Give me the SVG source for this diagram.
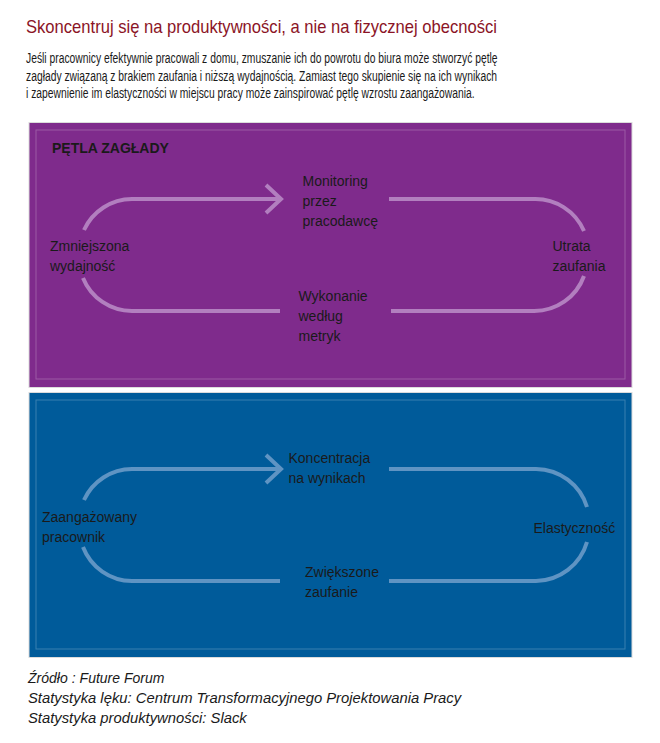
<svg xmlns="http://www.w3.org/2000/svg" width="660" height="743" viewBox="0 0 660 743">
<style>
.title{font-family:"Liberation Sans",Arial,sans-serif;font-size:18.5px;fill:#8b1426;}
.para{font-family:"Liberation Sans",Arial,sans-serif;font-size:14.5px;fill:#1a1a1a;}
.lbl{font-family:"Liberation Sans",Arial,sans-serif;font-size:14px;fill:#1a1a1a;}
.head{font-family:"Liberation Sans",Arial,sans-serif;font-size:14px;font-weight:bold;fill:#1a1a1a;}
.foot{font-family:"Liberation Sans",Arial,sans-serif;font-size:14px;font-style:italic;fill:#1a1a1a;}
.foot2{font-family:"Liberation Sans",Arial,sans-serif;font-size:14.8px;font-style:italic;fill:#1a1a1a;}
.panel{stroke:#dcdcdc;stroke-width:1;}
.inner{fill:none;stroke:#ffffff;stroke-opacity:0.22;stroke-width:1;}
.link{fill:none;stroke-width:4;}
.lp{stroke:#b27fbf;}
.lb{stroke:#5f94c3;}
</style>
<defs>
<marker id="chevP" markerUnits="userSpaceOnUse" viewBox="-18 -17 22 34" markerWidth="22" markerHeight="34" refX="0" refY="0" orient="auto">
<path d="M-14 -14 L1 0 L-14 14" fill="none" stroke="#b27fbf" stroke-width="4"/>
</marker>
<marker id="chevB" markerUnits="userSpaceOnUse" viewBox="-18 -17 22 34" markerWidth="22" markerHeight="34" refX="0" refY="0" orient="auto">
<path d="M-14 -14 L1 0 L-14 14" fill="none" stroke="#5f94c3" stroke-width="4"/>
</marker>
</defs>
<rect width="660" height="743" fill="#ffffff"/>
<g id="header">
<text class="title" x="26" y="33" textLength="471" lengthAdjust="spacingAndGlyphs">Skoncentruj się na produktywności, a nie na fizycznej obecności</text>
<g transform="translate(26 0) scale(0.7125 1)">
<text class="para" x="0" y="63.5">Jeśli pracownicy efektywnie pracowali z domu, zmuszanie ich do powrotu do biura może stworzyć pętlę</text>
<text class="para" x="0" y="81">zagłady związaną z brakiem zaufania i niższą wydajnością. Zamiast tego skupienie się na ich wynikach</text>
<text class="para" x="0" y="98.5">i zapewnienie im elastyczności w miejscu pracy może zainspirować pętlę wzrostu zaangażowania.</text>
</g>
</g>
<g id="panel-doom">
<rect class="panel" x="29" y="122.5" width="603" height="265" fill="#7f2b8c"/>
<rect class="inner" x="36" y="130" width="589" height="249"/>
<text class="head" x="52" y="153">PĘTLA ZAGŁADY</text>
</g>
<g id="panel-growth">
<rect class="panel" x="29" y="392.5" width="603" height="265" fill="#005b9a"/>
<rect class="inner" x="36" y="400" width="589" height="249"/>
</g>
<g id="connectors">
<path class="link lp" d="M84 230 A53 53 0 0 1 132 199 L280 199" marker-end="url(#chevP)"/>
<path class="link lp" d="M389 199 L534 199 A53 53 0 0 1 584 231"/>
<path class="link lp" d="M584 276 A53 53 0 0 1 534 311 L391 311"/>
<path class="link lp" d="M280 311 L132 311 A53 53 0 0 1 83 278"/>
<path class="link lb" d="M84 500 A53 53 0 0 1 132 469 L280 469" marker-end="url(#chevB)"/>
<path class="link lb" d="M389 469 L536 469 A54 54 0 0 1 587 507"/>
<path class="link lb" d="M587 542 A54 54 0 0 1 536 581 L389 581"/>
<path class="link lb" d="M280 581 L132 581 A53 53 0 0 1 83 547"/>
</g>
<g id="node-monitoring">
<text class="lbl" x="302.5" y="185.5">Monitoring</text>
<text class="lbl" x="302.5" y="205.5">przez</text>
<text class="lbl" x="302.5" y="225.5">pracodawcę</text>
</g>
<g id="node-utrata">
<text class="lbl" x="552.5" y="250.5">Utrata</text>
<text class="lbl" x="552.5" y="270.5">zaufania</text>
</g>
<g id="node-wykonanie">
<text class="lbl" x="298.5" y="300.5">Wykonanie</text>
<text class="lbl" x="298.5" y="320.5">według</text>
<text class="lbl" x="298.5" y="340.5">metryk</text>
</g>
<g id="node-zmniejszona">
<text class="lbl" x="50" y="250.5">Zmniejszona</text>
<text class="lbl" x="50" y="270.5">wydajność</text>
</g>
<g id="node-koncentracja">
<text class="lbl" x="288.5" y="462.5">Koncentracja</text>
<text class="lbl" x="288.5" y="482.5">na wynikach</text>
</g>
<g id="node-elastycznosc">
<text class="lbl" x="533.5" y="532.5">Elastyczność</text>
</g>
<g id="node-zwiekszone">
<text class="lbl" x="305" y="577">Zwiększone</text>
<text class="lbl" x="305" y="597">zaufanie</text>
</g>
<g id="node-zaangazowany">
<text class="lbl" x="42" y="521.5">Zaangażowany</text>
<text class="lbl" x="42" y="541.5">pracownik</text>
</g>
<g id="footer">
<text class="foot" x="28" y="682.5">Źródło<tspan dx="4">:</tspan><tspan dx="4">Future Forum</tspan></text>
<text class="foot2" x="28" y="702.5">Statystyka lęku: Centrum Transformacyjnego Projektowania Pracy</text>
<text class="foot2" x="28" y="722.5">Statystyka produktywności: Slack</text>
</g>
</svg>
